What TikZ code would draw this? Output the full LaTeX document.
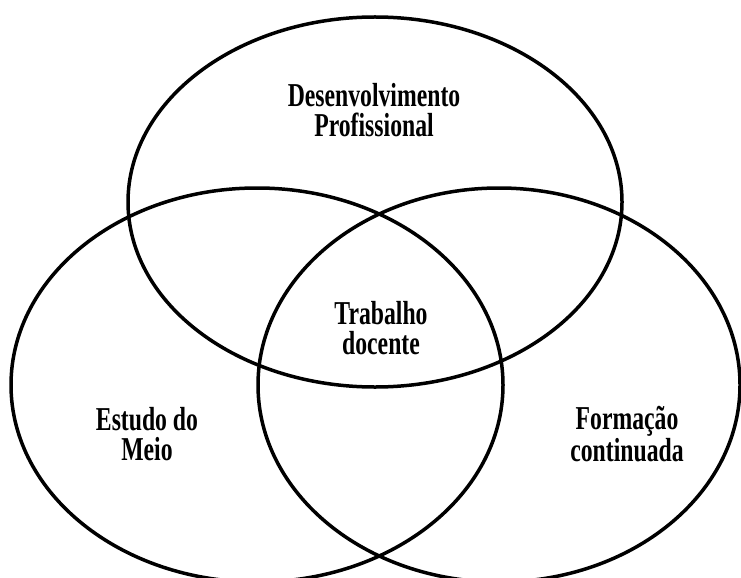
\documentclass[tikz,border=0pt]{standalone}
\usepackage{fontspec}
\newfontfamily\etiquette[FakeStretch=0.71]{Liberation Serif}
\usetikzlibrary{calc}
\tikzstyle{epais}           =[line width=0.7mm]
\tikzstyle{texte}           =[font=\etiquette\bfseries\fontsize{19}{17}\selectfont, align=center, inner sep=0pt]

\begin{document}
\begin{tikzpicture}

\useasboundingbox (0,0) rectangle (14.82,11.54);

%%%%%%%%%%%%%%%%%%%%%%%%
%Centres et rayons des trois ellipses
%%%%%%%%%%%%%%%%%%%%%%%%

\def \ryhaut {3.70}; %demi-axe vertical de l'ellipse du haut
\def \rybas {3.94}; %demi-axe vertical des ellipses du bas
\coordinate (Haut) at (7.50,7.50);
\coordinate (Gauche) at (5.14,3.84);
\coordinate (Droite) at (9.98,3.84);

\draw [epais] (Haut) ellipse (4.94 and \ryhaut);
\draw [epais] (Gauche) ellipse (4.92 and \rybas);
\draw [epais] (Droite) ellipse (4.82 and \rybas);

%%%%%%%%%%%%%%%%%%%%%%%%
%Textes
%%%%%%%%%%%%%%%%%%%%%%%%

\node [texte] (dev) at (7.48,9.34) {Desenvolvimento\\Profissional};
\node [texte] (trab) at (7.62,4.98) {Trabalho\\docente};
\node [texte] (meio) at (2.94,2.86) {Estudo do\\Meio};
\node [texte] (form) at (12.54,2.86) {Formação\\continuada};

\end{tikzpicture}
\end{document}
